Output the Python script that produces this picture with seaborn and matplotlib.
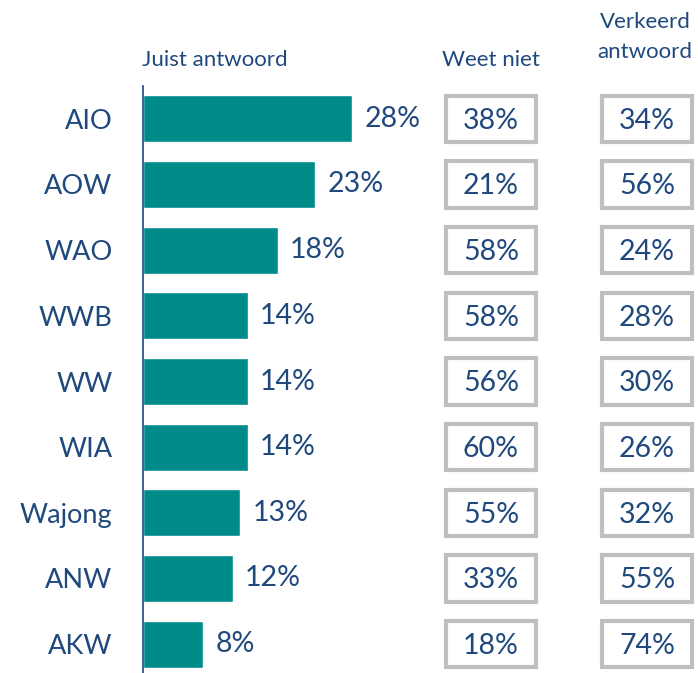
import numpy as np
import pandas as pd
import matplotlib as mpl
from matplotlib import pyplot as plt
from matplotlib import transforms
from matplotlib.patches import Rectangle
import seaborn as sns

# data
regelingen = ["AIO", "AOW", "WAO", "WWB", "WW", "WIA", "Wajong", "ANW", "AKW"]
juist = [28, 23, 18, 14, 14, 14, 13, 12, 8]
weet_niet = [38, 21, 58, 58, 56, 60, 55, 33, 18]
verkeerd = [34, 56, 24, 28, 30, 26, 32, 55, 74]

teal = "#008B8B"
navy = "#1F497D"
grey = "#BFBFBF"

sns.set_style("white")
plt.rcParams['font.family'] = ['Lato', 'DejaVu Sans']

df = pd.DataFrame({"regeling": regelingen, "juist": juist})

fig = plt.figure(figsize=(6.98, 6.73), dpi=100)
ax = fig.add_axes([143 / 698, -4 / 673, 299 / 698, 591 / 673])

sns.barplot(data=df, x="juist", y="regeling", color=teal, saturation=1,
            width=0.72, errorbar=None, ax=ax)
ax.set_xlim(0, 40)
ax.set_ylim(8.5, -0.5)
ax.set_xlabel("")
ax.set_ylabel("")
ax.set_xticks([])

for s in ["top", "right", "bottom"]:
    ax.spines[s].set_visible(False)
ax.spines["left"].set_color(navy)
ax.spines["left"].set_linewidth(1.2)

ax.tick_params(axis="y", which="major", length=0, pad=22, labelsize=19.5,
               labelcolor=navy)
ax.set_yticks(np.arange(-0.5, len(regelingen)), minor=True)
ax.tick_params(axis="y", which="minor", length=5, width=1.2, color=navy)

ax.bar_label(ax.containers[0], labels=[f"{v}%" for v in juist], padding=9,
             fontsize=20.5, color=navy)

# column headers
fig.text(142 / 698, 1 - 60 / 673, "Juist antwoord", fontsize=16, color=navy,
         ha="left", va="center")
fig.text(491 / 698, 1 - 60 / 673, "Weet niet", fontsize=16, color=navy,
         ha="center", va="center")
fig.text(645 / 698, 1 - 37 / 673, "Verkeerd\nantwoord", fontsize=16,
         color=navy, ha="center", va="center", linespacing=1.65)

# boxed columns
trans = transforms.blended_transform_factory(fig.transFigure, ax.transData)
for cx, vals in [(491, weet_niet), (647, verkeerd)]:
    for i, v in enumerate(vals):
        ax.add_patch(Rectangle(((cx - 45) / 698, i - 0.355), 90 / 698, 0.71,
                               transform=trans, facecolor="white",
                               edgecolor=grey, linewidth=3, clip_on=False))
        ax.text(cx / 698, i + 0.03, f"{v}%", transform=trans, ha="center",
                va="center", fontsize=20.5, color=navy)

fig.savefig("out.png", dpi=100)
